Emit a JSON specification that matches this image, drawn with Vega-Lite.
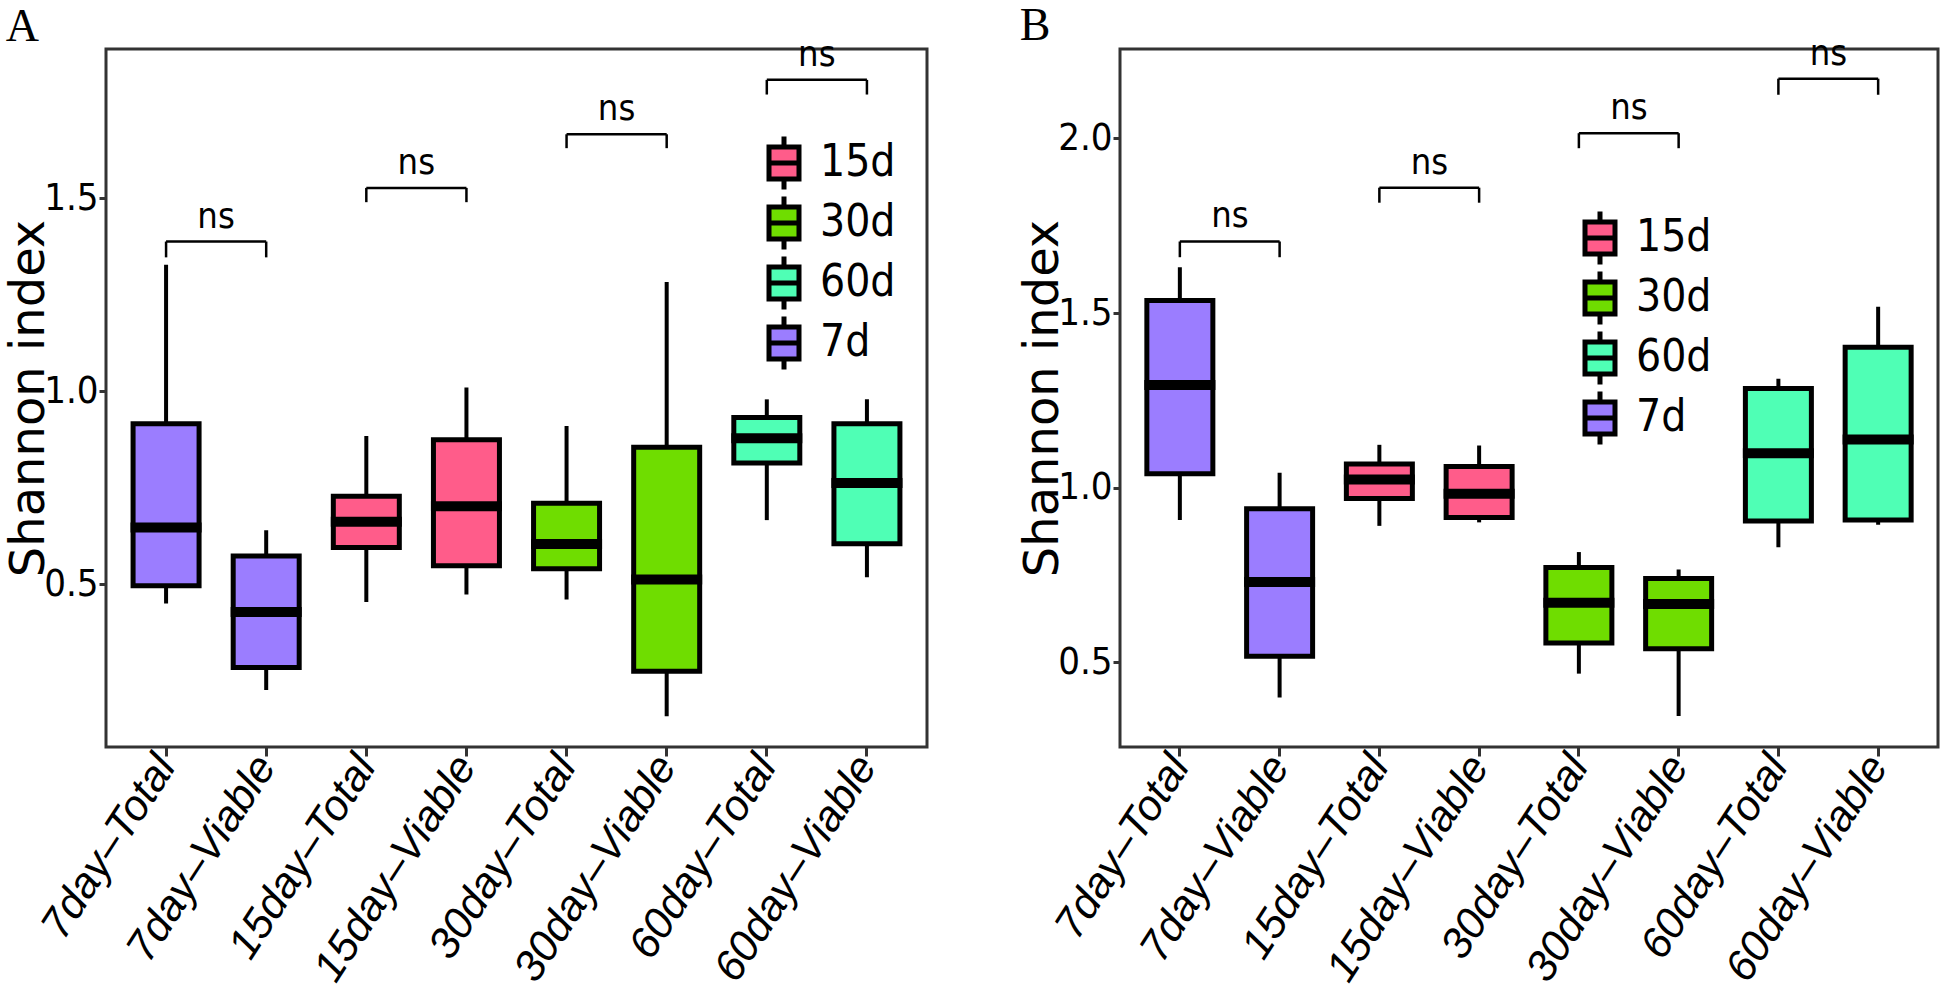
{
  "$schema": "https://vega.github.io/schema/vega-lite/v6.json",
  "padding": {"left": 4, "top": 1, "right": 0, "bottom": 0},
  "background": "white",
  "spacing": 89,
  "datasets": {
    "boxes": [
      {"panel": "A", "group": "7day–Total", "period": "7d", "low": 0.450, "q1": 0.496, "median": 0.647, "q3": 0.916, "high": 1.328},
      {"panel": "A", "group": "7day–Viable", "period": "7d", "low": 0.226, "q1": 0.284, "median": 0.428, "q3": 0.573, "high": 0.640},
      {"panel": "A", "group": "15day–Total", "period": "15d", "low": 0.454, "q1": 0.595, "median": 0.662, "q3": 0.728, "high": 0.884},
      {"panel": "A", "group": "15day–Viable", "period": "15d", "low": 0.473, "q1": 0.548, "median": 0.702, "q3": 0.874, "high": 1.010},
      {"panel": "A", "group": "30day–Total", "period": "30d", "low": 0.460, "q1": 0.540, "median": 0.604, "q3": 0.710, "high": 0.910},
      {"panel": "A", "group": "30day–Viable", "period": "30d", "low": 0.158, "q1": 0.274, "median": 0.512, "q3": 0.855, "high": 1.283},
      {"panel": "A", "group": "60day–Total", "period": "60d", "low": 0.666, "q1": 0.814, "median": 0.878, "q3": 0.932, "high": 0.979},
      {"panel": "A", "group": "60day–Viable", "period": "60d", "low": 0.518, "q1": 0.605, "median": 0.762, "q3": 0.916, "high": 0.979},
      {"panel": "B", "group": "7day–Total", "period": "7d", "low": 0.908, "q1": 1.040, "median": 1.294, "q3": 1.536, "high": 1.631},
      {"panel": "B", "group": "7day–Viable", "period": "7d", "low": 0.400, "q1": 0.518, "median": 0.730, "q3": 0.940, "high": 1.043},
      {"panel": "B", "group": "15day–Total", "period": "15d", "low": 0.891, "q1": 0.969, "median": 1.024, "q3": 1.068, "high": 1.123},
      {"panel": "B", "group": "15day–Viable", "period": "15d", "low": 0.901, "q1": 0.915, "median": 0.983, "q3": 1.061, "high": 1.121},
      {"panel": "B", "group": "30day–Total", "period": "30d", "low": 0.468, "q1": 0.556, "median": 0.671, "q3": 0.772, "high": 0.816},
      {"panel": "B", "group": "30day–Viable", "period": "30d", "low": 0.347, "q1": 0.539, "median": 0.667, "q3": 0.740, "high": 0.766},
      {"panel": "B", "group": "60day–Total", "period": "60d", "low": 0.830, "q1": 0.905, "median": 1.099, "q3": 1.284, "high": 1.312},
      {"panel": "B", "group": "60day–Viable", "period": "60d", "low": 0.894, "q1": 0.908, "median": 1.138, "q3": 1.402, "high": 1.518}
    ],
    "brackets": [
      {"panel": "A", "g1": "7day–Total", "g2": "7day–Viable", "y": 1.388, "yend": 1.347, "label": "ns"},
      {"panel": "A", "g1": "15day–Total", "g2": "15day–Viable", "y": 1.527, "yend": 1.490, "label": "ns"},
      {"panel": "A", "g1": "30day–Total", "g2": "30day–Viable", "y": 1.666, "yend": 1.630, "label": "ns"},
      {"panel": "A", "g1": "60day–Total", "g2": "60day–Viable", "y": 1.807, "yend": 1.769, "label": "ns"},
      {"panel": "B", "g1": "7day–Total", "g2": "7day–Viable", "y": 1.705, "yend": 1.660, "label": "ns"},
      {"panel": "B", "g1": "15day–Total", "g2": "15day–Viable", "y": 1.859, "yend": 1.816, "label": "ns"},
      {"panel": "B", "g1": "30day–Total", "g2": "30day–Viable", "y": 2.015, "yend": 1.972, "label": "ns"},
      {"panel": "B", "g1": "60day–Total", "g2": "60day–Viable", "y": 2.171, "yend": 2.125, "label": "ns"}
    ]
  },
  "config": {
    "view": {"stroke": "#333333", "strokeWidth": 3},
    "axis": {"grid": false, "domain": false, "tickColor": "#333333", "tickWidth": 3, "labelColor": "black", "titleColor": "black", "titleFontWeight": "normal"},
    "title": {"font": "Liberation Serif", "fontSize": 46, "fontWeight": "normal", "anchor": "start", "frame": "bounds", "offset": -14, "baseline": "top", "color": "black"},
    "legend": {
      "orient": "none", "title": null, "padding": 0, "rowPadding": -14, "labelOffset": 14,
      "labelFont": "DejaVu Sans Condensed, Liberation Sans", "labelFontSize": 44, "labelColor": "black", "labelLimit": 0,
      "symbolType": "M-1,-1.067H1V1.067H-1Z M-1,0H1 M0,-1.067V-1.767 M0,1.067V1.767",
      "symbolSize": 900, "symbolStrokeColor": "black", "symbolStrokeWidth": 5
    }
  },
  "resolve": {"legend": {"color": "independent"}, "scale": {"y": "independent"}},
  "hconcat": [
    {
      "title": "A",
      "width": 821,
      "height": 698,
      "layer": [
        {
          "data": {"name": "boxes"},
          "transform": [{"filter": "datum.panel === 'A'"}],
          "mark": {"type": "rule", "strokeWidth": 4, "color": "black"},
          "encoding": {
            "x": {"field": "group", "type": "nominal",
              "scale": {"domain": ["7day–Total", "7day–Viable", "15day–Total", "15day–Viable", "30day–Total", "30day–Viable", "60day–Total", "60day–Viable"], "paddingInner": 0, "paddingOuter": 0.1},
              "axis": {"title": null, "labelAngle": -57, "labelAlign": "right", "labelBaseline": "middle", "labelFont": "Liberation Sans", "labelFontStyle": "italic", "labelFontSize": 43, "labelLimit": 0, "labelOverlap": false, "tickSize": 9, "labelPadding": 3}},
            "y": {"field": "low", "type": "quantitative",
              "scale": {"domain": [0.078, 1.887], "nice": false, "zero": false},
              "axis": {"title": "Shannon index", "values": [0.5, 1.0, 1.5], "format": ".1f", "labelFont": "DejaVu Sans Condensed, Liberation Sans", "labelFontSize": 38, "tickSize": 7, "labelPadding": 1, "titleFont": "DejaVu Sans", "titleFontSize": 48, "titlePadding": -10}},
            "y2": {"field": "high"}
          }
        },
        {
          "data": {"name": "boxes"},
          "transform": [{"filter": "datum.panel === 'A'"}],
          "mark": {"type": "bar", "size": 66, "stroke": "black", "strokeWidth": 5, "opacity": 1},
          "encoding": {
            "x": {"field": "group", "type": "nominal"},
            "y": {"field": "q1", "type": "quantitative"},
            "y2": {"field": "q3"},
            "color": {"field": "period", "type": "nominal",
              "scale": {"domain": ["15d", "30d", "60d", "7d"], "range": ["#FF5C8A", "#6FDD00", "#4FFFB5", "#9B7DFF"]},
              "legend": {"legendX": 656, "legendY": 92}}
          }
        },
        {
          "data": {"name": "boxes"},
          "transform": [{"filter": "datum.panel === 'A'"}],
          "mark": {"type": "tick", "size": 71, "thickness": 10, "color": "black", "opacity": 1},
          "encoding": {
            "x": {"field": "group", "type": "nominal"},
            "y": {"field": "median", "type": "quantitative"}
          }
        },
        {
          "data": {"name": "brackets"},
          "transform": [{"filter": "datum.panel === 'A'"}],
          "mark": {"type": "rule", "strokeWidth": 2.5, "color": "black"},
          "encoding": {
            "x": {"field": "g1", "type": "nominal"},
            "x2": {"field": "g2"},
            "y": {"field": "y", "type": "quantitative"}
          }
        },
        {
          "data": {"name": "brackets"},
          "transform": [{"filter": "datum.panel === 'A'"}],
          "mark": {"type": "rule", "strokeWidth": 2.5, "color": "black"},
          "encoding": {
            "x": {"field": "g1", "type": "nominal"},
            "y": {"field": "y", "type": "quantitative"},
            "y2": {"field": "yend"}
          }
        },
        {
          "data": {"name": "brackets"},
          "transform": [{"filter": "datum.panel === 'A'"}],
          "mark": {"type": "rule", "strokeWidth": 2.5, "color": "black"},
          "encoding": {
            "x": {"field": "g2", "type": "nominal"},
            "y": {"field": "y", "type": "quantitative"},
            "y2": {"field": "yend"}
          }
        },
        {
          "data": {"name": "brackets"},
          "transform": [{"filter": "datum.panel === 'A'"}],
          "mark": {"type": "text", "dx": 50, "dy": -6, "baseline": "bottom", "align": "center", "font": "DejaVu Sans Condensed, Liberation Sans", "fontSize": 36, "color": "black"},
          "encoding": {
            "x": {"field": "g1", "type": "nominal"},
            "y": {"field": "y", "type": "quantitative"},
            "text": {"field": "label"}
          }
        }
      ]
    },
    {
      "title": "B",
      "width": 818,
      "height": 698,
      "layer": [
        {
          "data": {"name": "boxes"},
          "transform": [{"filter": "datum.panel === 'B'"}],
          "mark": {"type": "rule", "strokeWidth": 4, "color": "black"},
          "encoding": {
            "x": {"field": "group", "type": "nominal",
              "scale": {"domain": ["7day–Total", "7day–Viable", "15day–Total", "15day–Viable", "30day–Total", "30day–Viable", "60day–Total", "60day–Viable"], "paddingInner": 0, "paddingOuter": 0.1},
              "axis": {"title": null, "labelAngle": -57, "labelAlign": "right", "labelBaseline": "middle", "labelFont": "Liberation Sans", "labelFontStyle": "italic", "labelFontSize": 43, "labelLimit": 0, "labelOverlap": false, "tickSize": 9, "labelPadding": 3}},
            "y": {"field": "low", "type": "quantitative",
              "scale": {"domain": [0.258, 2.256], "nice": false, "zero": false},
              "axis": {"title": "Shannon index", "values": [0.5, 1.0, 1.5, 2.0], "format": ".1f", "labelFont": "DejaVu Sans Condensed, Liberation Sans", "labelFontSize": 38, "tickSize": 7, "labelPadding": 1, "titleFont": "DejaVu Sans", "titleFontSize": 48, "titlePadding": -10}},
            "y2": {"field": "high"}
          }
        },
        {
          "data": {"name": "boxes"},
          "transform": [{"filter": "datum.panel === 'B'"}],
          "mark": {"type": "bar", "size": 66, "stroke": "black", "strokeWidth": 5, "opacity": 1},
          "encoding": {
            "x": {"field": "group", "type": "nominal"},
            "y": {"field": "q1", "type": "quantitative"},
            "y2": {"field": "q3"},
            "color": {"field": "period", "type": "nominal",
              "scale": {"domain": ["15d", "30d", "60d", "7d"], "range": ["#FF5C8A", "#6FDD00", "#4FFFB5", "#9B7DFF"]},
              "legend": {"legendX": 458, "legendY": 167}}
          }
        },
        {
          "data": {"name": "boxes"},
          "transform": [{"filter": "datum.panel === 'B'"}],
          "mark": {"type": "tick", "size": 71, "thickness": 10, "color": "black", "opacity": 1},
          "encoding": {
            "x": {"field": "group", "type": "nominal"},
            "y": {"field": "median", "type": "quantitative"}
          }
        },
        {
          "data": {"name": "brackets"},
          "transform": [{"filter": "datum.panel === 'B'"}],
          "mark": {"type": "rule", "strokeWidth": 2.5, "color": "black"},
          "encoding": {
            "x": {"field": "g1", "type": "nominal"},
            "x2": {"field": "g2"},
            "y": {"field": "y", "type": "quantitative"}
          }
        },
        {
          "data": {"name": "brackets"},
          "transform": [{"filter": "datum.panel === 'B'"}],
          "mark": {"type": "rule", "strokeWidth": 2.5, "color": "black"},
          "encoding": {
            "x": {"field": "g1", "type": "nominal"},
            "y": {"field": "y", "type": "quantitative"},
            "y2": {"field": "yend"}
          }
        },
        {
          "data": {"name": "brackets"},
          "transform": [{"filter": "datum.panel === 'B'"}],
          "mark": {"type": "rule", "strokeWidth": 2.5, "color": "black"},
          "encoding": {
            "x": {"field": "g2", "type": "nominal"},
            "y": {"field": "y", "type": "quantitative"},
            "y2": {"field": "yend"}
          }
        },
        {
          "data": {"name": "brackets"},
          "transform": [{"filter": "datum.panel === 'B'"}],
          "mark": {"type": "text", "dx": 50, "dy": -6, "baseline": "bottom", "align": "center", "font": "DejaVu Sans Condensed, Liberation Sans", "fontSize": 36, "color": "black"},
          "encoding": {
            "x": {"field": "g1", "type": "nominal"},
            "y": {"field": "y", "type": "quantitative"},
            "text": {"field": "label"}
          }
        }
      ]
    }
  ]
}
